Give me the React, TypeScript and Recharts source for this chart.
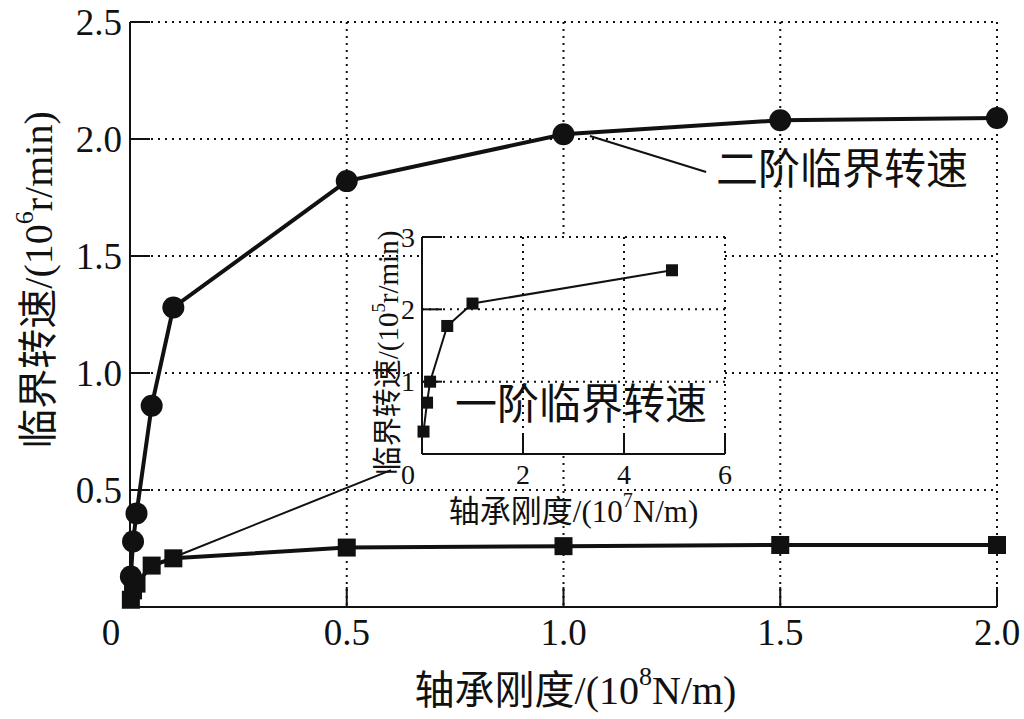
import { LineChart, Line, XAxis, YAxis, CartesianGrid, ReferenceLine, Label } from 'recharts'

// main chart: stiffness in 10^8 N/m, speeds in 10^6 r/min
const stiffness = [0.002, 0.007, 0.015, 0.05, 0.1, 0.5, 1.0, 1.5, 2.0]
const secondOrder = [0.13, 0.28, 0.4, 0.86, 1.28, 1.82, 2.02, 2.08, 2.09]
const firstOrder = [0.031, 0.071, 0.1, 0.177, 0.208, 0.254, 0.26, 0.265, 0.265]

const xTicks = [0, 0.5, 1.0, 1.5, 2.0]
const xTickLabels = ['0', '0.5', '1.0', '1.5', '2.0']
const yTicks = [0, 0.5, 1.0, 1.5, 2.0, 2.5]
const yTickLabels = ['', '0.5', '1.0', '1.5', '2.0', '2.5']

// inset: stiffness in 10^7 N/m, speed in 10^5 r/min
const insetStiffness = [0.03, 0.1, 0.16, 0.5, 1.0, 4.95]
const insetFirstOrder = [0.31, 0.71, 1.0, 1.77, 2.08, 2.54]
const insetXTicks = [0, 2, 4, 6]
const insetXTickLabels = ['0', '2', '4', '6']
const insetYTicks = [0, 1, 2, 3]
const insetYTickLabels = ['', '1', '2', '3']

const mainData = stiffness.map((x, i) => ({ x, second: secondOrder[i], first: firstOrder[i] }))
const insetData = insetStiffness.map((x, i) => ({ x, first: insetFirstOrder[i] }))

const FONT = "'Liberation Serif', 'DejaVu Serif', 'Noto Sans CJK SC', serif"
const INK = '#111'

const circleDot = (p: any) => (
  <circle key={p.index} cx={p.cx} cy={p.cy} r={11} fill={INK} />
)
const squareDot = (size: number) => (p: any) => (
  <rect key={p.index} x={p.cx - size / 2} y={p.cy - size / 2} width={size} height={size} fill={INK} />
)

const makeYTick = (ticks: number[], labels: string[], len: number, fs: number, dx: number) => (p: any) => {
  const label = labels[ticks.indexOf(p.payload.value)]
  return (
    <g>
      <line x1={p.x} x2={p.x + len} y1={p.y} y2={p.y} stroke={INK} strokeWidth={2} />
      <text x={p.x - dx} y={p.y} textAnchor="end" dominantBaseline="central" fontSize={fs} style={{ fontFamily: FONT }} fill={INK}>
        {label}
      </text>
    </g>
  )
}

const makeXTick = (ticks: number[], labels: string[], len: number, fs: number, dy: number, zeroShift: number) => (p: any) => {
  const label = labels[ticks.indexOf(p.payload.value)]
  const shift = p.payload.value === 0 ? zeroShift : 0
  return (
    <g>
      <line x1={p.x} x2={p.x} y1={p.y} y2={p.y - len} stroke={INK} strokeWidth={2} />
      <text x={p.x + shift} y={p.y + dy} textAnchor="middle" dominantBaseline="central" fontSize={fs} style={{ fontFamily: FONT }} fill={INK}>
        {label}
      </text>
    </g>
  )
}

const xTitle = (fs: number, sup: string, rest: string, dx: number, dy: number) => (props: any) => {
  const vb = props.viewBox
  const cx = vb.x + vb.width / 2 + dx
  return (
    <text x={cx} y={vb.y + dy} textAnchor="middle" dominantBaseline="central" fontSize={fs} style={{ fontFamily: FONT }} fill={INK}>
      轴承刚度/(10
      <tspan dy={-fs * 0.35} fontSize={fs * 0.65}>{sup}</tspan>
      <tspan dy={fs * 0.35}>{rest}</tspan>
    </text>
  )
}

const yTitle = (fs: number, sup: string, rest: string, cx: number, cy: number) => () => (
  <text
    x={cx}
    y={cy}
    transform={`rotate(-90 ${cx} ${cy})`}
    textAnchor="middle"
    dominantBaseline="central"
    fontSize={fs}
    style={{ fontFamily: FONT }}
    fill={INK}
  >
    临界转速/(10
    <tspan dy={-fs * 0.35} fontSize={fs * 0.65}>{sup}</tspan>
    <tspan dy={fs * 0.35}>{rest}</tspan>
  </text>
)

export default function App() {
  return (
    <div style={{ position: 'absolute', left: 0, top: 0, width: 1024, height: 719, background: '#fff', fontFamily: FONT }}>
      <LineChart width={1024} height={719} data={mainData} margin={{ top: 22, right: 27, left: 0, bottom: 0 }}>
        <CartesianGrid stroke={INK} strokeWidth={2} strokeDasharray="2 5" />
        <XAxis
          dataKey="x"
          type="number"
          domain={[0, 2]}
          ticks={xTicks}
          height={112}
          tickSize={0}
          tickMargin={0}
          tickLine={false}
          axisLine={{ stroke: INK, strokeWidth: 2 }}
          tick={makeXTick(xTicks, xTickLabels, 20, 37, 25, -19)}
          interval={0}
        >
          <Label content={xTitle(40, '8', 'N/m)', 12, 83)} />
        </XAxis>
        <XAxis xAxisId="top" orientation="top" type="number" domain={[0, 2]} height={0} tick={false} tickLine={false} axisLine={{ stroke: INK, strokeWidth: 2 }} />
        <YAxis
          type="number"
          domain={[0, 2.5]}
          ticks={yTicks}
          width={130}
          tickSize={0}
          tickMargin={0}
          tickLine={false}
          axisLine={{ stroke: INK, strokeWidth: 2 }}
          tick={makeYTick(yTicks, yTickLabels, 20, 37, 8)}
          interval={0}
        >
          <Label content={yTitle(40, '6', 'r/min)', 38, 280)} />
        </YAxis>
        <YAxis yAxisId="right" orientation="right" type="number" domain={[0, 2.5]} width={0} tick={false} tickLine={false} axisLine={{ stroke: INK, strokeWidth: 2 }} />
        <ReferenceLine segment={[{ x: 0.108, y: 0.218 }, { x: 0.602, y: 0.585 }]} stroke={INK} strokeWidth={2} />
        <ReferenceLine segment={[{ x: 1.061, y: 2.013 }, { x: 1.329, y: 1.859 }]} stroke={INK} strokeWidth={2} />
        <Line dataKey="second" stroke={INK} strokeWidth={4} dot={circleDot} isAnimationActive={false} />
        <Line dataKey="first" stroke={INK} strokeWidth={4} dot={squareDot(18)} isAnimationActive={false} />
      </LineChart>

      <div style={{ position: 'absolute', left: 360, top: 205 }}>
        <LineChart width={380} height={330} data={insetData} margin={{ top: 32, right: 15, left: 0, bottom: 0 }}>
          <CartesianGrid stroke={INK} strokeWidth={2} strokeDasharray="2 5" fill="#fff" fillOpacity={1} />
          <XAxis
            dataKey="x"
            type="number"
            domain={[0, 6]}
            ticks={insetXTicks}
            height={81}
            tickSize={0}
            tickMargin={0}
            tickLine={false}
            axisLine={{ stroke: INK, strokeWidth: 2 }}
            tick={makeXTick(insetXTicks, insetXTickLabels, 20, 28, 20, -14)}
            interval={0}
          >
            <Label content={xTitle(31, '7', 'N/m)', 0, 57)} />
          </XAxis>
          <XAxis xAxisId="top" orientation="top" type="number" domain={[0, 6]} height={0} tick={false} tickLine={false} axisLine={{ stroke: INK, strokeWidth: 2 }} />
          <YAxis
            type="number"
            domain={[0, 3]}
            ticks={insetYTicks}
            width={62}
            tickSize={0}
            tickMargin={0}
            tickLine={false}
            axisLine={{ stroke: INK, strokeWidth: 2 }}
            tick={makeYTick(insetYTicks, insetYTickLabels, 20, 28, 7)}
            interval={0}
          >
            <Label content={yTitle(29, '5', 'r/min)', 28, 148)} />
          </YAxis>
          <YAxis yAxisId="right" orientation="right" type="number" domain={[0, 3]} width={0} tick={false} tickLine={false} axisLine={{ stroke: INK, strokeWidth: 2 }} />
          <Line dataKey="first" stroke={INK} strokeWidth={2} dot={squareDot(12)} isAnimationActive={false} />
        </LineChart>
      </div>

      <div style={{ position: 'absolute', left: 455, top: 383, fontFamily: FONT, fontSize: 42, lineHeight: '44px', color: INK, whiteSpace: 'nowrap' }}>
        一阶临界转速
      </div>
      <div style={{ position: 'absolute', left: 716, top: 148, fontFamily: FONT, fontSize: 42, lineHeight: '44px', color: INK, whiteSpace: 'nowrap' }}>
        二阶临界转速
      </div>
    </div>
  )
}
